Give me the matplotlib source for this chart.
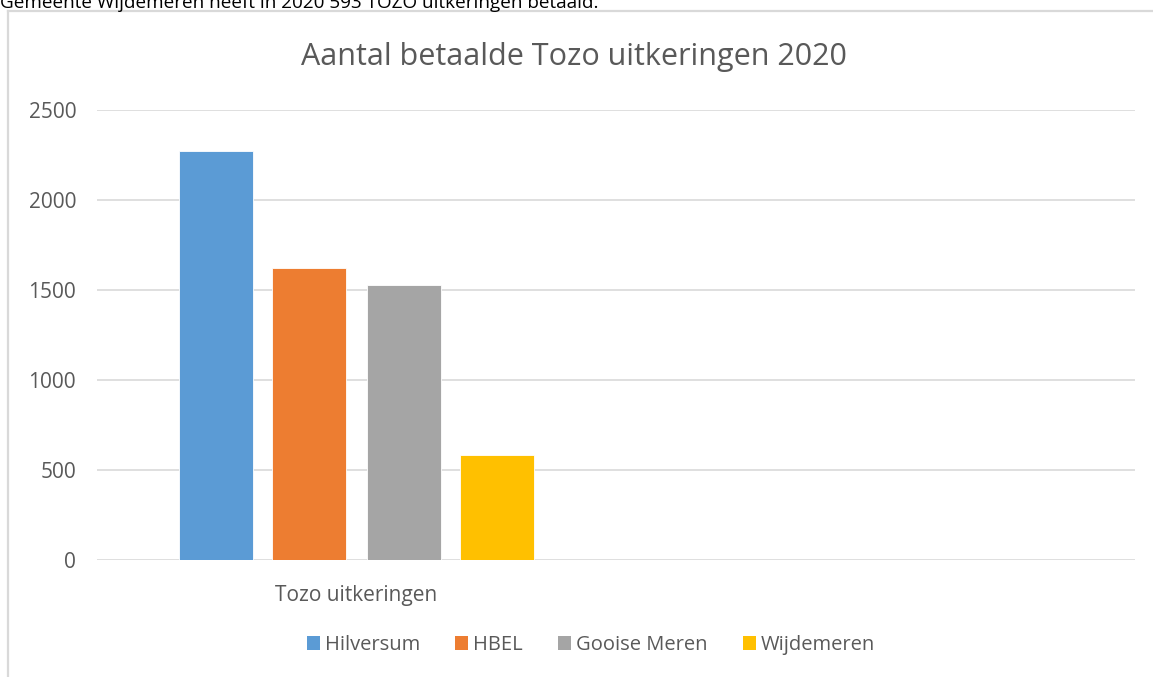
import matplotlib
matplotlib.use("Agg")
import matplotlib.pyplot as plt
from matplotlib.lines import Line2D
from matplotlib.patches import Patch

categories = ["Tozo uitkeringen", ""]
series_names = ["Hilversum", "HBEL", "Gooise Meren", "Wijdemeren"]
series_values = [2270, 1622, 1530, 585]
series_colors = ["#5B9BD5", "#ED7D31", "#A5A5A5", "#FFC000"]
yticks = [0, 500, 1000, 1500, 2000, 2500]
title = "Aantal betaalde Tozo uitkeringen 2020"
intro = "Gemeente Wijdemeren heeft in 2020 593 TOZO uitkeringen betaald."

plt.rcParams['font.family'] = ['Open Sans', 'DejaVu Sans']
W, H = 1153, 677
fig = plt.figure(figsize=(W/100, H/100), dpi=100)
fig.patch.set_facecolor("white")

def fx(px): return px / W
def fy(py): return 1 - py / H

ax = fig.add_axes([fx(97), fy(560), fx(1135) - fx(97), fy(110) - fy(560)])
ax.set_xlim(0, 2)
ax.set_ylim(0, 2500)

bar_w = 0.1426
offsets = [-0.2713, -0.0908, 0.0908, 0.2713]
for name, val, col, off in zip(series_names, series_values, series_colors, offsets):
    ax.bar(0.5 + off, val, width=bar_w, color=col, edgecolor="white", linewidth=0.6, zorder=3)

ax.set_yticks(yticks)
ax.set_yticklabels([str(t) for t in yticks], fontsize=15, color="#595959")
ax.set_xticks([0.5])
ax.set_xticklabels([categories[0]], fontsize=15, color="#595959")
ax.tick_params(axis='both', length=0)
ax.tick_params(axis='y', pad=15)
ax.tick_params(axis='x', pad=18)
for s in ax.spines.values():
    s.set_visible(False)
ax.grid(axis='y', color="#d9d9d9", linewidth=1.2, zorder=0)
ax.set_axisbelow(True)

fig.text(fx(574), fy(65), title, fontsize=22, color="#595959", ha='center', va='baseline')
fig.text(fx(0), fy(8), intro, fontsize=13.6, color="black", ha='left', va='baseline')

# chart frame
fig.add_artist(Line2D([fx(8), 1], [fy(11), fy(11)], color="#d9d9d9", linewidth=1.6))
fig.add_artist(Line2D([fx(8), fx(8)], [fy(11), 0], color="#d9d9d9", linewidth=1.6))

handles = [Patch(facecolor=c, edgecolor='none') for c in series_colors]
fig.legend(handles, series_names, loc='center', bbox_to_anchor=(fx(591), fy(645)), ncol=4,
           frameon=False, fontsize=14.5, labelcolor="#595959", handlelength=0.65, handleheight=0.65,
           handletextpad=0.25, columnspacing=1.75)

fig.savefig("out.png", dpi=100)
